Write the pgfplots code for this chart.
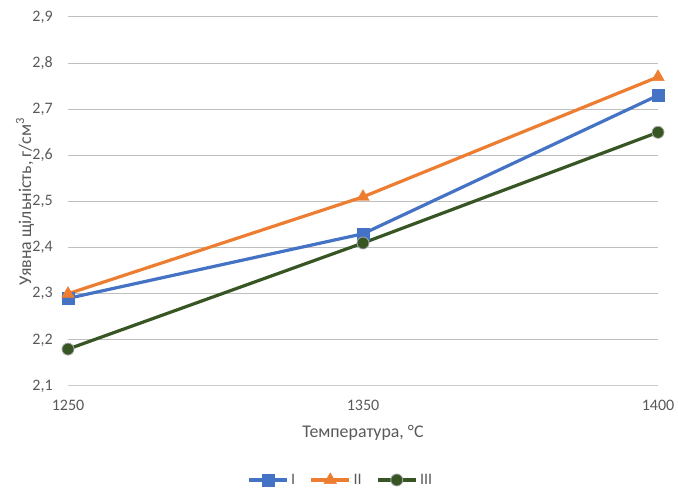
\documentclass[border=0pt]{standalone}
\usepackage{pgfplots}
\pgfplotsset{compat=1.18}
\usepackage{fontspec}
\setmainfont{Carlito}
\definecolor{sI}{HTML}{4472C4}
\definecolor{sII}{HTML}{ED7D31}
\definecolor{sIII}{HTML}{375623}
\definecolor{txt}{HTML}{595959}
\definecolor{grid}{HTML}{D9D9D9}
\begin{document}
\begin{tikzpicture}
\path[use as bounding box] (-51pt,-76.5pt) rectangle (457.5pt,289.5pt);
\begin{axis}[
  at={(0,0)}, anchor=south west,
  scale only axis,
  width=442.5pt, height=276.75pt,
  xmin=0, xmax=2,
  ymin=2.1, ymax=2.9,
  xtick={0,1,2},
  xticklabels={1250,1350,1400},
  ytick={2.1,2.2,...,2.9},
  /pgf/number format/.cd, fixed, fixed zerofill, precision=1, use comma, assume math mode=true,
  /pgfplots/.cd,
  xmajorgrids=false,
  ymajorgrids, major grid style={grid, line width=0.75pt},
  axis line style={draw=none},
  tick style={draw=none},
  major tick length=0pt,
  clip=false,
  tick label style={font=\fontsize{12pt}{14pt}\selectfont, text=txt},
  xticklabel style={yshift=-7pt},
  yticklabel style={xshift=-8pt},
  xlabel={Температура, °C},
  ylabel={Уявна щільність, г/см\textsuperscript{3}},
  label style={font=\fontsize{13.4pt}{15pt}\selectfont, text=txt},
  xlabel style={at={(axis description cs:0.5,-0.127)}, anchor=center},
  ylabel style={at={(axis description cs:-0.0729,0.5)}, anchor=center},
  legend style={at={(axis description cs:0.4627,-0.2547)}, anchor=center, draw=none,
    font=\fontsize{12pt}{14pt}\selectfont, text=txt, legend columns=3,
    inner sep=0pt,
    /tikz/every even column/.append style={column sep=9pt}},
  legend image code/.code={
    \draw[#1, mark=none] (0cm,0cm) -- (1.0cm,0cm);
    \draw[#1, only marks] plot coordinates {(0.5cm,0cm)};
  },
]
% bottom axis line
\draw[grid!85!gray, line width=0.75pt] (rel axis cs:0,0) -- (rel axis cs:1,0);
\addplot[sI, line width=2.4pt, mark=square*, mark size=4.5pt, mark options={solid, fill=sI, draw=sI, line width=0.3pt}]
  coordinates {(0,2.29) (1,2.43) (2,2.73)};
\addlegendentry{I}
\addplot[sII, line width=2.4pt, mark=triangle*, mark size=5.4pt, mark options={solid, fill=sII, draw=sII, line width=0.3pt}]
  coordinates {(0,2.30) (1,2.51) (2,2.77)};
\addlegendentry{II}
\addplot[sIII, line width=2.4pt, mark=*, mark size=4.5pt, mark options={solid, fill=sIII, draw=gray!70, line width=0.6pt}]
  coordinates {(0,2.18) (1,2.41) (2,2.65)};
\addlegendentry{III}
\end{axis}
\end{tikzpicture}
\end{document}
